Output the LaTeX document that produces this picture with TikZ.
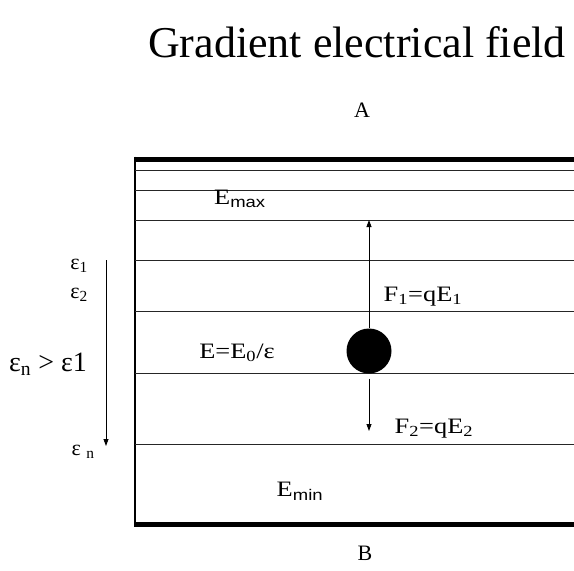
\documentclass[tikz,border=0pt]{standalone}
\usepackage{fontspec}
\setmainfont{Liberation Serif}
\newfontfamily\subsans{Liberation Sans}
\usetikzlibrary{arrows.meta}
\newcommand{\widetxt}[1]{\scalebox{1.2}[1]{#1}}
\newcommand{\ssub}[1]{\textsubscript{\subsans #1}}
\begin{document}
\begin{tikzpicture}[x=1pt,y=-1pt,
  lbl/.style={inner sep=0pt,font=\fontsize{22}{24}\selectfont},
  eps/.style={inner sep=0pt,font=\fontsize{22}{24}\selectfont},
  layer/.style={line width=0.9pt,black!85},
  plate/.style={line width=5pt},
  force/.style={line width=0.8pt,-{Triangle[length=7pt,width=5pt]}}]
\useasboundingbox (0,0) rectangle (574,571);
% title and poles
\node[inner sep=0pt,font=\fontsize{44}{46}\selectfont] (title) at (357,42) {Gradient electrical field};
\node[inner sep=0pt,font=\fontsize{22}{24}\selectfont] (A) at (362,110) {A};
\node[inner sep=0pt,font=\fontsize{22}{24}\selectfont] (B) at (365,553) {B};
% plates
\coordinate (tl) at (135,159); \coordinate (tr) at (574,159);
\coordinate (bl) at (135,524); \coordinate (br) at (574,524);
\draw[plate] (tl) -- (tr);
\draw[plate] (bl) -- (br);
\draw[line width=1.5pt] (135,156.5) -- (135,526.5);
% layer lines
\foreach \y in {170,190,220,260,311,373,444}{
  \draw[layer] (135,\y) -- (574,\y);
}
% ball and forces
\node[circle,fill=black,minimum size=45pt,inner sep=0pt] (ball) at (369,351) {};
\coordinate (up) at (369,220);
\coordinate (dn) at (369,431);
\draw[force] (ball.north) -- (up);
\draw[force] ([yshift=-5pt]ball.south) -- (dn);
% left gradient arrow
\coordinate (g1) at (106,260);
\coordinate (g2) at (106,446);
\draw[force] (g1) -- (g2);
% labels
\node[lbl] (emax) at (240,199) {\widetxt{E\ssub{max}}};
\node[lbl] (emin) at (300,491) {\widetxt{E\ssub{min}}};
\node[lbl] (ee) at (237,353) {\widetxt{E=E\textsubscript{0}/ε}};
\node[lbl] (f1) at (423,297) {\widetxt{F\textsubscript{1}=qE\textsubscript{1}}};
\node[lbl] (f2) at (434,429) {\widetxt{F\textsubscript{2}=qE\textsubscript{2}}};
\node[eps] (e1) at (79,266) {ε\textsubscript{1}};
\node[eps] (e2) at (79,295) {ε\textsubscript{2}};
\node[eps,font=\fontsize{28}{30}\selectfont] (en1) at (48,364) {ε\textsubscript{n} > ε1};
\node[eps] (en) at (83,452) {ε \textsubscript{n}};
\end{tikzpicture}
\end{document}
